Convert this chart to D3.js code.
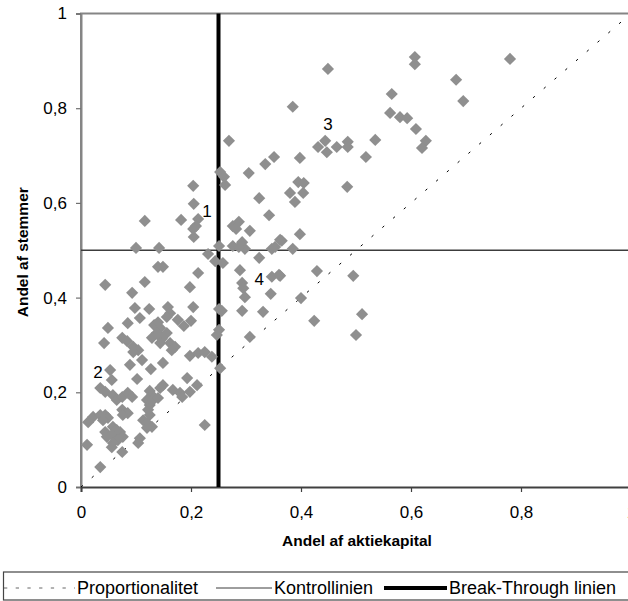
<!DOCTYPE html>
<html><head><meta charset="utf-8">
<script src="https://cdn.jsdelivr.net/npm/d3@7"></script>
<style>body{margin:0;background:#fff;overflow:hidden;} svg{display:block;font-family:"Liberation Sans",Arial,sans-serif;}</style>
</head><body><svg id="c" width="628" height="601"></svg>
<script>
// Andel af aktiekapital (x) and Andel af stemmer (y) for each company
const shareCapital = [0.449,0.607,0.607,0.780,0.682,0.695,0.385,0.565,0.562,0.580,0.593,0.609,0.627,0.620,0.535,0.518,0.485,0.485,0.465,0.431,
0.444,0.447,0.398,0.395,0.405,0.380,0.404,0.389,0.484,0.398,0.365,0.385,0.362,0.429,0.495,0.400,0.424,0.511,0.500,
0.269,0.253,0.260,0.262,0.305,0.335,0.351,0.204,0.205,0.324,0.342,0.116,0.182,0.213,0.209,0.204,0.205,0.276,0.287,0.282,0.307,
0.362,0.353,0.347,0.276,0.293,0.298,0.287,0.251,0.100,0.142,0.231,0.244,0.258,0.324,0.213,0.289,0.347,0.360,0.293,0.295,
0.298,0.198,0.345,0.204,0.293,0.251,0.256,0.331,0.200,0.251,0.247,0.307,0.140,0.149,0.044,0.116,0.093,0.253,0.225,
0.098,0.124,0.158,0.162,0.156,0.107,0.085,0.133,0.140,0.176,0.187,0.049,0.156,0.144,0.138,0.075,0.084,0.129,0.147,0.144,
0.162,0.171,0.165,0.042,0.095,0.104,0.095,0.198,0.213,0.225,0.238,0.149,0.111,0.089,0.127,0.053,0.056,0.102,0.193,0.149,
0.144,0.211,0.035,0.044,0.125,0.129,0.167,0.180,0.198,0.184,0.058,0.065,0.075,0.085,0.093,0.120,0.125,0.131,0.140,0.075,
0.085,0.076,0.122,0.125,0.022,0.035,0.044,0.049,0.040,0.013,0.113,0.120,0.129,0.120,0.058,0.065,0.071,0.044,0.047,0.056,
0.076,0.067,0.058,0.056,0.107,0.104,0.011,0.075,0.035];
const shareVotes = [0.883,0.908,0.893,0.904,0.860,0.815,0.803,0.830,0.790,0.781,0.779,0.756,0.731,0.716,0.733,0.697,0.729,0.718,0.718,0.718,
0.731,0.707,0.695,0.644,0.642,0.621,0.621,0.602,0.634,0.534,0.520,0.503,0.446,0.456,0.446,0.399,0.351,0.365,0.321,
0.731,0.665,0.655,0.638,0.663,0.682,0.697,0.636,0.598,0.610,0.574,0.562,0.564,0.566,0.551,0.545,0.528,0.551,0.560,0.545,0.541,
0.522,0.507,0.503,0.509,0.517,0.503,0.507,0.509,0.505,0.505,0.492,0.477,0.473,0.484,0.452,0.458,0.444,0.448,0.431,0.420,
0.401,0.422,0.408,0.380,0.372,0.376,0.372,0.370,0.351,0.332,0.321,0.317,0.465,0.465,0.427,0.433,0.410,0.251,0.131,
0.378,0.376,0.380,0.367,0.359,0.357,0.346,0.342,0.348,0.353,0.340,0.336,0.325,0.336,0.325,0.315,0.308,0.315,0.313,0.304,
0.304,0.296,0.289,0.304,0.296,0.289,0.285,0.277,0.283,0.285,0.275,0.262,0.268,0.258,0.249,0.247,0.226,0.228,0.230,0.215,
0.209,0.215,0.209,0.201,0.203,0.194,0.205,0.199,0.201,0.190,0.194,0.184,0.190,0.199,0.190,0.184,0.173,0.184,0.188,0.163,
0.156,0.152,0.163,0.152,0.148,0.152,0.152,0.146,0.141,0.137,0.141,0.135,0.127,0.125,0.127,0.120,0.116,0.116,0.106,0.110,
0.106,0.099,0.093,0.084,0.103,0.093,0.089,0.074,0.042];

const tickValues = [0, 0.2, 0.4, 0.6, 0.8, 1];
const controlLevel = 0.5;
const breakThroughLevel = 0.25;
const quadrantLabels = ["1", "2", "3", "4"];
const quadrantX = [0.229, 0.031, 0.449, 0.324];
const quadrantY = [0.583, 0.243, 0.767, 0.439];
const legendLabels = ["Proportionalitet", "Kontrollinien", "Break-Through linien"];
const xTitle = "Andel af aktiekapital";
const yTitle = "Andel af stemmer";

const svg = d3.select("#c");
const mL = 81, mR = 631, mT = 13.5, mB = 487;
const x = d3.scaleLinear().domain([0, 1]).range([mL, mR]);
const y = d3.scaleLinear().domain([0, 1]).range([mB, mT]);
const fmt = d => String(d).replace(".", ",");

// plot border (top / right) and left axis line
svg.append("path")
  .attr("d", `M${x(0)},${y(0)}V${y(1)}H${x(1)}V${y(0)}`)
  .attr("fill", "none").attr("stroke", "#858585").attr("stroke-width", 2);

// Y axis
const ya = svg.append("g").attr("transform", `translate(${mL},0)`)
  .call(d3.axisLeft(y).tickValues(tickValues).tickFormat(fmt).tickSize(5).tickPadding(9));
ya.select(".domain").attr("stroke", "#858585").attr("stroke-width", 2);
ya.selectAll(".tick line").attr("stroke", "#707070").attr("stroke-width", 1.2);
ya.selectAll(".tick text").attr("font-size", 17).attr("fill", "#000")
  .attr("font-family", "Liberation Sans, Arial, sans-serif");

// X axis
const xa = svg.append("g").attr("transform", `translate(0,${mB})`)
  .call(d3.axisBottom(x).tickValues(tickValues).tickFormat(fmt).tickSize(5).tickPadding(14));
xa.select(".domain").attr("stroke", "#404040").attr("stroke-width", 2);
xa.selectAll(".tick line").attr("stroke", "#404040").attr("stroke-width", 1.2);
xa.selectAll(".tick text").attr("font-size", 17).attr("fill", "#000")
  .attr("font-family", "Liberation Sans, Arial, sans-serif");

// Proportionalitet (y = x)
svg.append("line")
  .attr("x1", x(0)).attr("y1", y(0)).attr("x2", x(1)).attr("y2", y(1))
  .attr("stroke", "#000").attr("stroke-width", 1).attr("stroke-dasharray", "2.5,11.7");

// Kontrollinien
svg.append("line")
  .attr("x1", x(0)).attr("x2", x(1)).attr("y1", y(controlLevel)).attr("y2", y(controlLevel))
  .attr("stroke", "#3c3c3c").attr("stroke-width", 1.5);

// Break-Through linien
svg.append("line")
  .attr("x1", x(breakThroughLevel)).attr("x2", x(breakThroughLevel)).attr("y1", y(0)).attr("y2", y(1))
  .attr("stroke", "#000").attr("stroke-width", 4);

// points
const pts = shareCapital.map((v, i) => [v, shareVotes[i]]);
const diamond = d3.symbol().type(d3.symbolSquare).size(74)();
svg.append("g").selectAll("path").data(pts).join("path")
  .attr("d", diamond)
  .attr("transform", d => `translate(${x(d[0])},${y(d[1])}) rotate(45)`)
  .attr("fill", "#8f8f8f");

// quadrant labels
svg.append("g").selectAll("text").data(quadrantLabels).join("text")
  .attr("x", (d, i) => x(quadrantX[i])).attr("y", (d, i) => y(quadrantY[i]))
  .attr("dy", "0.36em").attr("text-anchor", "middle")
  .attr("font-size", 17).text(d => d);

// axis titles
svg.append("text").attr("x", (mL + mR) / 2 + 1).attr("y", 546)
  .attr("text-anchor", "middle").attr("font-weight", "bold").attr("font-size", 15.5).text(xTitle);
svg.append("text").attr("transform", `translate(28,${y(0.5) + 2}) rotate(-90)`)
  .attr("text-anchor", "middle").attr("font-weight", "bold").attr("font-size", 15.5).text(yTitle);

// legend
const lg = svg.append("g");
lg.append("rect").attr("x", 3.5).attr("y", 572).attr("width", 640).attr("height", 28)
  .attr("fill", "#fff").attr("stroke", "#444").attr("stroke-width", 1.2);
const ly = 588, lty = 594;
lg.append("line").attr("x1", 4).attr("x2", 75).attr("y1", ly).attr("y2", ly)
  .attr("stroke", "#666").attr("stroke-width", 1).attr("stroke-dasharray", "3.3,8.4");
lg.append("text").attr("x", 77).attr("y", lty).attr("font-size", 18).text(legendLabels[0]);
lg.append("line").attr("x1", 216).attr("x2", 272).attr("y1", ly).attr("y2", ly)
  .attr("stroke", "#3c3c3c").attr("stroke-width", 1);
lg.append("text").attr("x", 274).attr("y", lty).attr("font-size", 18).text(legendLabels[1]);
lg.append("line").attr("x1", 384).attr("x2", 447).attr("y1", ly).attr("y2", ly)
  .attr("stroke", "#000").attr("stroke-width", 4);
lg.append("text").attr("x", 449).attr("y", lty).attr("font-size", 18).text(legendLabels[2]);
</script></body></html>
